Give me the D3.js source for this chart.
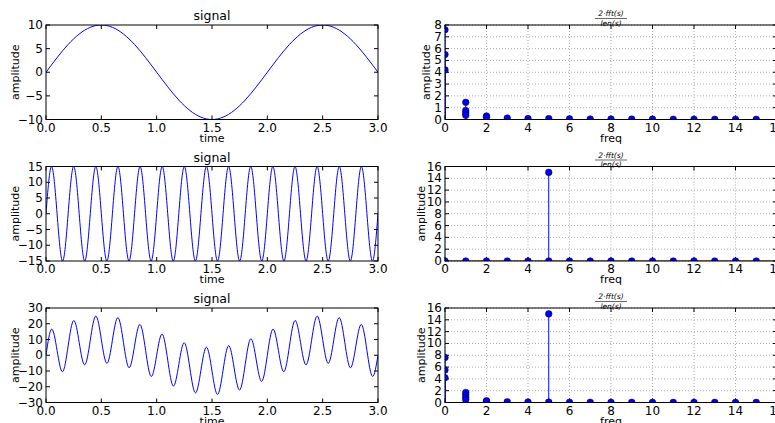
<!DOCTYPE html>
<html>
<head>
<meta charset="utf-8">
<script src="https://cdn.jsdelivr.net/npm/d3@7"></script>
<style>
  body { margin: 0; background: #fff; }
  text { font-family: "DejaVu Sans", sans-serif; fill: #000; }
</style>
</head>
<body>
<script>
const time = [0.00, 0.05, 0.10, 0.15, 0.20, 0.25, 0.30, 0.35, 0.40, 0.45,
  0.50, 0.55, 0.60, 0.65, 0.70, 0.75, 0.80, 0.85, 0.90, 0.95,
  1.00, 1.05, 1.10, 1.15, 1.20, 1.25, 1.30, 1.35, 1.40, 1.45,
  1.50, 1.55, 1.60, 1.65, 1.70, 1.75, 1.80, 1.85, 1.90, 1.95,
  2.00, 2.05, 2.10, 2.15, 2.20, 2.25, 2.30, 2.35, 2.40, 2.45,
  2.50, 2.55, 2.60, 2.65, 2.70, 2.75, 2.80, 2.85, 2.90, 2.95, 3.00];

const signal1 = [0, 1.56, 3.09, 4.54, 5.88, 7.07, 8.09, 8.91, 9.51, 9.88,
  10, 9.88, 9.51, 8.91, 8.09, 7.07, 5.88, 4.54, 3.09, 1.56,
  0, -1.56, -3.09, -4.54, -5.88, -7.07, -8.09, -8.91, -9.51, -9.88,
  -10, -9.88, -9.51, -8.91, -8.09, -7.07, -5.88, -4.54, -3.09, -1.56,
  0, 1.56, 3.09, 4.54, 5.88, 7.07, 8.09, 8.91, 9.51, 9.88,
  10, 9.88, 9.51, 8.91, 8.09, 7.07, 5.88, 4.54, 3.09, 1.56, 0];

const signal2 = [0, 15, 0, -15, 0, 15, 0, -15, 0, 15,
  0, -15, 0, 15, 0, -15, 0, 15, 0, -15,
  0, 15, 0, -15, 0, 15, 0, -15, 0, 15,
  0, -15, 0, 15, 0, -15, 0, 15, 0, -15,
  0, 15, 0, -15, 0, 15, 0, -15, 0, 15,
  0, -15, 0, 15, 0, -15, 0, 15, 0, -15, 0];

const signal3 = [0, 16.56, 3.09, -10.46, 5.88, 22.07, 8.09, -6.09, 9.51, 24.88,
  10, -5.12, 9.51, 23.91, 8.09, -7.93, 5.88, 19.54, 3.09, -13.44,
  0, 13.44, -3.09, -19.54, -5.88, 7.93, -8.09, -23.91, -9.51, 5.12,
  -10, -24.88, -9.51, 6.09, -8.09, -22.07, -5.88, 10.46, -3.09, -16.56,
  0, 16.56, 3.09, -10.46, 5.88, 22.07, 8.09, -6.09, 9.51, 24.88,
  10, -5.12, 9.51, 23.91, 8.09, -7.93, 5.88, 19.54, 3.09, -13.44, 0];

// fft stems: frequency and magnitude
const freq1 = [0, 0, 0, 1, 1, 1, 1, 2, 2, 3, 4, 5, 6, 7, 8, 9, 10, 11, 12, 13, 14, 15];
const amp1 = [7.6, 5.5, 4.2, 1.45, 0.75, 0.55, 0.35, 0.3, 0.2, 0.12, 0.08, 0.07, 0.05, 0.04, 0.03, 0.03, 0.03, 0.02, 0.02, 0.02, 0.02, 0.02];

const freq2 = [0, 1, 2, 3, 4, 5, 5, 6, 7, 8, 9, 10, 11, 12, 13, 14, 15];
const amp2 = [0, 0, 0, 0, 0, 15, 0, 0, 0, 0, 0, 0, 0, 0, 0, 0, 0];

const freq3 = [0, 0, 0, 1, 1, 1, 1, 2, 2, 3, 4, 5, 5, 6, 7, 8, 9, 10, 11, 12, 13, 14, 15];
const amp3 = [7.6, 5.5, 4.2, 1.7, 1.3, 0.9, 0.5, 0.3, 0.2, 0.12, 0.08, 15, 0.07, 0.05, 0.04, 0.03, 0.03, 0.03, 0.02, 0.02, 0.02, 0.02, 0.02];

const timeTicks = [0, 0.5, 1, 1.5, 2, 2.5, 3];
const freqTicks = [0, 2, 4, 6, 8, 10, 12, 14, 16];
const yTicks1 = [-10, -5, 0, 5, 10];
const yTicks2 = [-15, -10, -5, 0, 5, 10, 15];
const yTicks3 = [-30, -20, -10, 0, 10, 20, 30];
const fftTicks1 = [0, 1, 2, 3, 4, 5, 6, 7, 8];
const fftTicks2 = [0, 2, 4, 6, 8, 10, 12, 14, 16];

const width = 775, height = 423;
const rowTop = [25, 166.5, 308];
const axH = 94.5, axW = 332;
const leftX = 46, rightX = 445;

const svg = d3.select("body").append("svg")
  .attr("width", width)
  .attr("height", height);

const fmt = v => String(v).replace("-", "\u2212");

function frame(g, x, y, xTicks, yTicks, xFmt, yFmt, grid, id) {
  g.append("clipPath").attr("id", id)
    .append("rect").attr("width", axW).attr("height", axH);

  if (grid) {
    g.selectAll(".gx").data(xTicks).enter().append("line")
      .attr("x1", d => x(d)).attr("x2", d => x(d))
      .attr("y1", 0).attr("y2", axH)
      .attr("stroke", "#888").attr("stroke-width", 0.7).attr("stroke-dasharray", "1,2");
    g.selectAll(".gy").data(yTicks).enter().append("line")
      .attr("x1", 0).attr("x2", axW)
      .attr("y1", d => y(d)).attr("y2", d => y(d))
      .attr("stroke", "#888").attr("stroke-width", 0.7).attr("stroke-dasharray", "1,2");
  }

  // ticks on all four sides, pointing in
  const tl = 4;
  xTicks.forEach(t => {
    g.append("line").attr("x1", x(t)).attr("x2", x(t)).attr("y1", axH).attr("y2", axH - tl).attr("stroke", "#000");
    g.append("line").attr("x1", x(t)).attr("x2", x(t)).attr("y1", 0).attr("y2", tl).attr("stroke", "#000");
    g.append("text").attr("x", x(t)).attr("y", axH + 12)
      .attr("text-anchor", "middle").attr("font-size", 12).text(xFmt(t));
  });
  yTicks.forEach(t => {
    g.append("line").attr("x1", 0).attr("x2", tl).attr("y1", y(t)).attr("y2", y(t)).attr("stroke", "#000");
    g.append("line").attr("x1", axW).attr("x2", axW - tl).attr("y1", y(t)).attr("y2", y(t)).attr("stroke", "#000");
    g.append("text").attr("x", -3).attr("y", y(t) + 4)
      .attr("text-anchor", "end").attr("font-size", 12).text(yFmt(t));
  });
}

function border(g) {
  g.append("rect").attr("width", axW).attr("height", axH)
    .attr("fill", "none").attr("stroke", "#000").attr("stroke-width", 1);
}

function signalPlot(row, values, yTicks) {
  const g = svg.append("g").attr("transform", `translate(${leftX},${rowTop[row]})`);
  const x = d3.scaleLinear().domain([0, 3]).range([0, axW]);
  const y = d3.scaleLinear().domain([yTicks[0], yTicks[yTicks.length - 1]]).range([axH, 0]);

  frame(g, x, y, timeTicks, yTicks, d => d.toFixed(1), fmt, false, "clipL" + row);

  const line = d3.line()
    .x((d, i) => x(time[i]))
    .y(d => y(d))
    .curve(d3.curveNatural);

  g.append("path").datum(values)
    .attr("d", line)
    .attr("clip-path", `url(#clipL${row})`)
    .attr("fill", "none")
    .attr("stroke", "#0000ff")
    .attr("stroke-width", 1);

  border(g);

  g.append("text").attr("x", axW / 2).attr("y", -5)
    .attr("text-anchor", "middle").attr("font-size", 12.5).text("signal");
  g.append("text").attr("x", axW / 2).attr("y", axH + 22)
    .attr("text-anchor", "middle").attr("font-size", 11).text("time");
  g.append("text").attr("transform", `translate(-27,${axH / 2}) rotate(-90)`)
    .attr("text-anchor", "middle").attr("font-size", 11).text("amplitude");
}

function fftPlot(row, freqs, amps, yTicks) {
  const g = svg.append("g").attr("transform", `translate(${rightX},${rowTop[row]})`);
  const x = d3.scaleLinear().domain([0, 16]).range([0, axW]);
  const y = d3.scaleLinear().domain([yTicks[0], yTicks[yTicks.length - 1]]).range([axH, 0]);

  frame(g, x, y, freqTicks, yTicks, d => d, d => d, true, "clipR" + row);

  const plot = g.append("g").attr("clip-path", `url(#clipR${row})`);
  const pts = freqs.map((f, i) => ({ f: f, a: amps[i] }));

  plot.selectAll(".stem").data(pts).enter().append("line")
    .attr("x1", d => x(d.f)).attr("x2", d => x(d.f))
    .attr("y1", y(0)).attr("y2", d => y(d.a))
    .attr("stroke", "#0000ff").attr("stroke-width", 1);

  border(g);

  // red baseline over the bottom spine
  plot.append("line")
    .attr("x1", x(d3.min(freqs))).attr("x2", x(d3.max(freqs)) + 40)
    .attr("y1", y(0)).attr("y2", y(0))
    .attr("stroke", "#7a2020").attr("stroke-width", 1.2);

  plot.selectAll(".mark").data(pts).enter().append("circle")
    .attr("cx", d => x(d.f)).attr("cy", d => y(d.a))
    .attr("r", 3.3)
    .attr("fill", "#0000ff").attr("stroke", "#000033").attr("stroke-width", 0.5);

  // title: 2·fft(s) / len(s)
  const t = g.append("g").attr("transform", `translate(${axW / 2},0)`);
  t.append("text").attr("x", 0).attr("y", -9)
    .attr("text-anchor", "middle").attr("font-size", 7.5)
    .attr("font-family", "DejaVu Serif").attr("font-style", "italic")
    .text("2\u00b7fft(s)");
  t.append("line").attr("x1", -16).attr("x2", 16).attr("y1", -6.5).attr("y2", -6.5)
    .attr("stroke", "#000").attr("stroke-width", 0.6);
  t.append("text").attr("x", 0).attr("y", 0.5)
    .attr("text-anchor", "middle").attr("font-size", 7.5)
    .attr("font-family", "DejaVu Serif").attr("font-style", "italic")
    .text("len(s)");

  g.append("text").attr("x", axW / 2).attr("y", axH + 22)
    .attr("text-anchor", "middle").attr("font-size", 11).text("freq");
  const off = yTicks[yTicks.length - 1] >= 10 ? -20 : -15;
  g.append("text").attr("transform", `translate(${off},${axH / 2}) rotate(-90)`)
    .attr("text-anchor", "middle").attr("font-size", 11).text("amplitude");
}

signalPlot(0, signal1, yTicks1);
signalPlot(1, signal2, yTicks2);
signalPlot(2, signal3, yTicks3);

fftPlot(0, freq1, amp1, fftTicks1);
fftPlot(1, freq2, amp2, fftTicks2);
fftPlot(2, freq3, amp3, fftTicks2);
</script>
</body>
</html>
